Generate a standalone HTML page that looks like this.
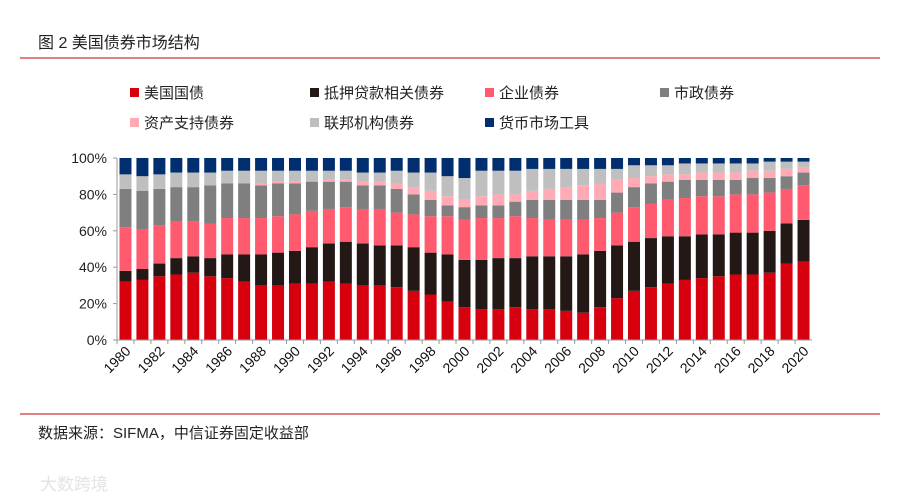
<!DOCTYPE html>
<html><head><meta charset="utf-8">
<style>
body{margin:0;background:#fff;font-family:"Liberation Sans","Noto Sans CJK SC",sans-serif;}
#wrap{position:relative;width:900px;height:499px;overflow:hidden;}
</style></head>
<body>
<div id="wrap">
<svg id="svg" width="900" height="499" xmlns="http://www.w3.org/2000/svg" style="font-family:'Liberation Sans','Noto Sans CJK SC',sans-serif">
<text x="38" y="48" font-size="16" fill="#222">图 2  美国债券市场结构</text>
<line x1="20" y1="58" x2="880" y2="58" stroke="#c00000" stroke-width="1"/>
<line x1="20" y1="414" x2="880" y2="414" stroke="#c00000" stroke-width="1"/>
<text x="38" y="438" font-size="15" fill="#222">数据来源：SIFMA，中信证券固定收益部</text>
<text x="40" y="490" font-size="17" fill="#e4e4e4">大数跨境</text>
<g id="legend"></g>
<g id="plot"></g>
</svg>
</div>
<script>
const years=[];for(let y=1980;y<=2020;y++)years.push(y);
const treasury=[32,33,35,36,37,35,34,32,30,30,31,31,32,31,30,30,29,27,25,21,18,17,17,18,17,17,16,15,18,23,27,29,31,33,34,35,36,36,37,42,43];
const mortgage=[6,6,7,9,9,10,13,15,17,18,18,20,21,23,23,22,23,24,23,26,26,27,28,27,29,29,30,32,31,29,27,27,26,24,24,23,23,23,23,22,23];
const corporate=[24,22,21,20,19,19,20,20,20,20,20,20,19,19,19,20,18,18,20,21,22,23,22,23,21,20,20,19,18,18,19,19,20,21,21,21,21,21,21,19,19];
const municipal=[21,21,20,19,19,21,19,19,18,18,17,16,15,14,13,13,13,11,9,6,7,7,7,8,10,11,11,11,10,11,11,11,10,10,9,9,8,9,8,7,7];
const abs=[0,0,0,0,0,0,0,0,1,1,1,0,1,1,2,2,3,4,5,5,4,5,6,4,5,6,7,8,9,7,5,4,4,3,4,4,4,4,4,4,3];
const agency=[8,8,8,8,8,7,7,7,7,6,6,6,5,5,5,5,7,8,10,11,12,14,13,13,12,11,10,9,8,6,7,6,5,6,5,5,5,4,5,4,3];
const moneyMarket=[9,10,9,8,8,8,7,7,7,7,7,7,7,7,8,8,7,8,8,10,11,7,7,7,6,6,6,6,6,6,4,4,4,3,3,3,3,3,2,2,2];
const seriesNames=["美国国债","抵押贷款相关债券","企业债券","市政债券","资产支持债券","联邦机构债券","货币市场工具"];
const yTicks=[0,20,40,60,80,100];
const series=[treasury,mortgage,corporate,municipal,abs,agency,moneyMarket];
const colors=["#d7000f","#231815","#ff5a6e","#7f7f7f","#ffaab4","#bfbfbf","#002e6e"];
const keys=["treasury","mortgage","corporate","municipal","abs","agency","money-market"];
const NS="http://www.w3.org/2000/svg";
const X0=117,X1=812,Y0=340,Y1=158;
const slot=(X1-X0)/years.length,bw=12;
const xS=i=>X0+slot*i+slot/2;
const yS=v=>Y0-(v/100)*(Y0-Y1);
function mk(t,a,p){const e=document.createElementNS(NS,t);for(const k in a)e.setAttribute(k,a[k]);p.appendChild(e);return e;}
const plot=document.getElementById('plot');
years.forEach((yr,i)=>{let cum=0;
 series.forEach((s,j)=>{const v=s[i];const top=Math.min(100,cum+v);const r=mk('rect',{x:xS(i)-bw/2,y:yS(top),width:bw,height:Math.max(0,yS(cum)-yS(top)),fill:colors[j]},plot);
 
 
 cum+=v;});});
const ax=mk('line',{x1:X0,y1:Y1,x2:X0,y2:Y0,stroke:'#999'},plot);


const bx=mk('line',{x1:X0,y1:Y0,x2:X1,y2:Y0,stroke:'#999'},plot);


yTicks.forEach(t=>{mk('line',{x1:X0-4,y1:yS(t),x2:X0,y2:yS(t),stroke:'#999'},plot);
 const tx=mk('text',{x:X0-10,y:yS(t)+5,'font-size':14,'text-anchor':'end',fill:'#222'},plot);tx.textContent=t+'%';
 
 });
years.forEach((yr,i)=>{mk('line',{x1:X0+slot*i,y1:Y0,x2:X0+slot*i,y2:Y0+4,stroke:'#999'},plot);
 if(i%2===0){const tx=mk('text',{x:xS(i)+6,y:Y0+12,'font-size':14,'text-anchor':'end',fill:'#111',transform:`rotate(-45 ${xS(i)+6} ${Y0+12})`},plot);tx.textContent=yr;
 
 }});
const lg=document.getElementById('legend');
const pos=[[130,93],[310,93],[485,93],[660,93],[130,123],[310,123],[485,123]];
seriesNames.forEach((n,j)=>{const g=mk('g',{},lg);
 
 
 mk('rect',{x:pos[j][0],y:pos[j][1]-5,width:9,height:9,fill:colors[j]},g);
 const t=mk('text',{x:pos[j][0]+14,y:pos[j][1]+5,'font-size':15,fill:'#222'},g);t.textContent=n;});
</script>
</body></html>
